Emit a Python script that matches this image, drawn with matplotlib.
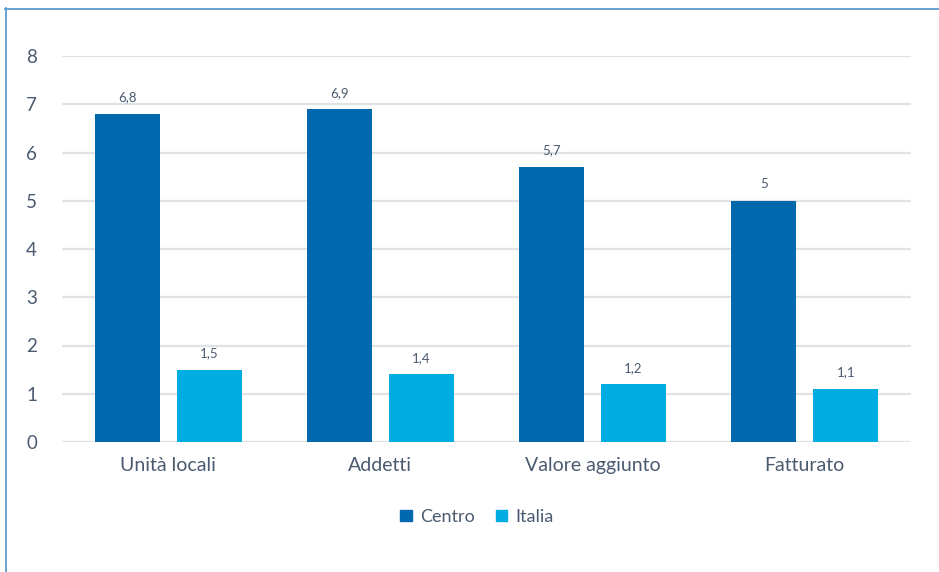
import matplotlib
matplotlib.use("Agg")
import matplotlib.pyplot as plt
from matplotlib.lines import Line2D
from matplotlib.patches import Patch
import numpy as np

categories = ["Unità locali", "Addetti", "Valore aggiunto", "Fatturato"]
centro = [6.8, 6.9, 5.7, 5.0]
italia = [1.5, 1.4, 1.2, 1.1]
series_names = ["Centro", "Italia"]
y_ticks = [0, 1, 2, 3, 4, 5, 6, 7, 8]

plt.rcParams["font.family"] = ["Lato", "DejaVu Sans"]
text_color = "#4a5a70"
c_centro = "#0068ad"
c_italia = "#00ade3"

W, H = 939, 572
fig = plt.figure(figsize=(W / 100, H / 100), dpi=100)
ax = fig.add_axes([62 / W, 1 - 442 / H, (911 - 62) / W, (442 - 56) / H])

x = np.arange(len(categories))
bw = 0.306
off = 0.193
b1 = ax.bar(x - off, centro, bw, color=c_centro, zorder=3)
b2 = ax.bar(x + off, italia, bw, color=c_italia, zorder=3)

def fmt(v):
    s = f"{v:g}"
    return s.replace(".", ",")

for bars, vals in ((b1, centro), (b2, italia)):
    for r, v in zip(bars, vals):
        ax.annotate(fmt(v), (r.get_x() + r.get_width() / 2, v),
                    xytext=(0, 7.5), textcoords="offset points",
                    ha="center", va="bottom", fontsize=9.5, color=text_color)

ax.set_xlim(-0.5, len(categories) - 0.5)
ax.set_ylim(0, 8)
ax.set_yticks(y_ticks)
ax.set_xticks(x)
ax.set_xticklabels(categories, fontsize=14)
ax.tick_params(axis="both", length=0, colors=text_color)
ax.tick_params(axis="y", pad=18, labelsize=13.5)
ax.tick_params(axis="x", pad=11)
ax.grid(axis="y", color="#dfe3e8", linewidth=1.6, zorder=0)
for s in ax.spines.values():
    s.set_visible(False)

handles = [Patch(color=c_centro), Patch(color=c_italia)]
fig.legend(handles, series_names, loc="center", bbox_to_anchor=(477 / W, 1 - 517 / H),
           ncol=2, frameon=False, fontsize=13, handlelength=0.62, handleheight=0.62,
           handletextpad=0.45, columnspacing=1.2, labelcolor=text_color)

# Frame lines on the left and top edges
border = "#5b9bcf"
fig.add_artist(Line2D([5.5 / W, 5.5 / W], [0, 1 - 8 / H], color=border, lw=1.3,
                      transform=fig.transFigure))
fig.add_artist(Line2D([5 / W, 1], [1 - 8.5 / H, 1 - 8.5 / H], color=border, lw=1.3,
                      transform=fig.transFigure))

fig.savefig("out.png", dpi=100, facecolor="white")
